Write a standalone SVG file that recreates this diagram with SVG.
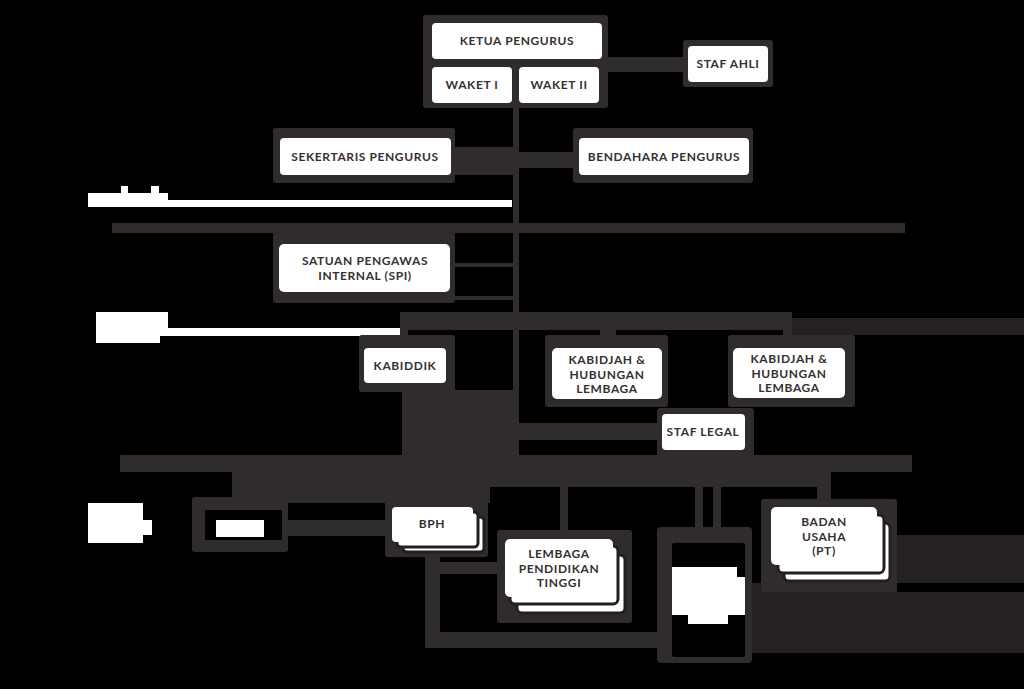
<svg xmlns="http://www.w3.org/2000/svg" width="1024" height="689" viewBox="0 0 1024 689">
  <style>
    .bg { fill: #000; }
    .g { fill: #302c2d; }
    .d { fill: #252122; }
    .w { fill: #ffffff; }
    .k { fill: #000; }
    .box { fill: #ffffff; }
    .layer { fill: #ffffff; stroke: #231f20; stroke-width: 3; }
    .t { font-family: Lato, "Open Sans", "Liberation Sans", sans-serif; font-weight: 700; font-size: 12px; letter-spacing: 0.6px; fill: #353132; text-anchor: middle; }
  </style>
  <rect class="bg" x="0" y="0" width="1024" height="689"/>

  <!-- connectors: grey bands and bars -->
  <g id="connectors">
    <!-- central spine -->
    <rect class="g" x="513" y="105" width="6" height="352"/>
    <!-- to STAF AHLI -->
    <rect class="g" x="605" y="57" width="80" height="15"/>
    <!-- to Sekertaris / Bendahara -->
    <rect class="g" x="453" y="147" width="60" height="28"/>
    <rect class="g" x="519" y="152" width="56" height="16"/>
    <!-- long grey rule -->
    <rect class="g" x="112" y="223" width="793" height="10"/>
    <!-- SPI ties -->
    <rect class="g" x="453" y="263" width="60" height="4"/>
    <rect class="g" x="453" y="296" width="60" height="4"/>
    <!-- Kabid bar -->
    <rect class="g" x="400" y="312" width="392" height="18"/>
    <rect class="d" x="792" y="318" width="232" height="17"/>
    <rect class="g" x="400" y="328" width="8" height="8"/>
    <rect class="g" x="600" y="328" width="16" height="8"/>
    <rect class="g" x="783" y="328" width="9" height="8"/>
    <!-- block below Kabiddik -->
    <rect class="g" x="402" y="390" width="112" height="67"/>
    <!-- to STAF LEGAL -->
    <rect class="g" x="519" y="423" width="140" height="17"/>
    <!-- main lower bar -->
    <rect class="g" x="120" y="455" width="792" height="17"/>
    <rect class="g" x="232" y="470" width="585" height="17"/>
    <rect class="g" x="232" y="485" width="258" height="18"/>
    <!-- stems -->
    <rect class="g" x="817" y="470" width="14" height="32"/>
    <rect class="g" x="560" y="485" width="8" height="47"/>
    <rect class="g" x="695" y="485" width="8" height="44"/>
    <rect class="g" x="713" y="485" width="8" height="44"/>
    <!-- small frame to BPH -->
    <rect class="g" x="286" y="520" width="104" height="16"/>
    <!-- BPH down and across -->
    <rect class="g" x="425" y="554" width="15" height="94"/>
    <rect class="g" x="438" y="562" width="64" height="12"/>
    <rect class="g" x="425" y="632" width="236" height="16"/>
    <!-- right-hand grey areas -->
    <rect class="d" x="897" y="535" width="127" height="48"/>
    <rect class="d" x="752" y="583" width="145" height="70"/>
    <rect class="d" x="897" y="592" width="127" height="61"/>
  </g>

  <!-- white rules with marks -->
  <g id="rules">
    <rect class="w" x="88" y="200" width="424" height="7"/>
    <rect class="w" x="88" y="193" width="80" height="14"/>
    <rect class="w" x="121" y="186" width="7" height="8"/>
    <rect class="w" x="151" y="186" width="8" height="8"/>
    <rect class="w" x="160" y="328" width="240" height="8"/>
    <rect class="w" x="96" y="312" width="72" height="24"/>
    <rect class="w" x="96" y="335" width="64" height="8"/>
  </g>

  <g id="ketua-waket">
    <rect class="g" x="423" y="15" width="185" height="93" rx="3"/>
    <rect class="box" x="432" y="23" width="170" height="36" rx="4"/>
    <text class="t" x="517" y="45">KETUA PENGURUS</text>
    <rect class="box" x="432" y="67" width="80" height="36" rx="4"/>
    <text class="t" x="472" y="89">WAKET I</text>
    <rect class="box" x="519" y="67" width="80" height="36" rx="4"/>
    <text class="t" x="559" y="89">WAKET II</text>
  </g>

  <g id="staf-ahli">
    <rect class="g" x="683" y="40" width="90" height="47" rx="3"/>
    <rect class="box" x="688" y="46" width="80" height="36" rx="4"/>
    <text class="t" x="728" y="68">STAF AHLI</text>
  </g>

  <g id="sekertaris">
    <rect class="g" x="273" y="128" width="182" height="55" rx="3"/>
    <rect class="box" x="280" y="138" width="171" height="37" rx="4"/>
    <text class="t" x="365" y="161">SEKERTARIS PENGURUS</text>
  </g>

  <g id="bendahara">
    <rect class="g" x="573" y="128" width="180" height="55" rx="3"/>
    <rect class="box" x="579" y="138" width="170" height="37" rx="4"/>
    <text class="t" x="664" y="161">BENDAHARA PENGURUS</text>
  </g>

  <g id="spi">
    <rect class="g" x="273" y="232" width="182" height="71" rx="3"/>
    <rect class="box" x="279" y="244" width="171" height="48" rx="5"/>
    <text class="t" x="365" y="265">SATUAN PENGAWAS<tspan x="365" dy="14.5">INTERNAL (SPI)</tspan></text>
  </g>

  <g id="kabiddik">
    <rect class="g" x="359" y="335" width="96" height="57" rx="3"/>
    <rect class="box" x="364" y="348" width="82" height="35" rx="4"/>
    <text class="t" x="405" y="370">KABIDDIK</text>
  </g>

  <g id="kabidjah-1">
    <rect class="g" x="545" y="335" width="123" height="72" rx="3"/>
    <rect class="box" x="552" y="348" width="110" height="51" rx="5"/>
    <text class="t" x="607" y="364">KABIDJAH &amp;<tspan x="607" dy="14.5">HUBUNGAN</tspan><tspan x="607" dy="14.5">LEMBAGA</tspan></text>
  </g>

  <g id="kabidjah-2">
    <rect class="g" x="728" y="335" width="127" height="72" rx="3"/>
    <rect class="box" x="733" y="348" width="112" height="50" rx="5"/>
    <text class="t" x="789" y="363">KABIDJAH &amp;<tspan x="789" dy="14.5">HUBUNGAN</tspan><tspan x="789" dy="14.5">LEMBAGA</tspan></text>
  </g>

  <g id="staf-legal">
    <rect class="g" x="657" y="408" width="97" height="49" rx="3"/>
    <rect class="box" x="662" y="414" width="83" height="36" rx="4"/>
    <text class="t" x="703" y="436">STAF LEGAL</text>
  </g>

  <g id="small-frame">
    <rect class="g" x="192" y="497" width="96" height="55" rx="3"/>
    <rect class="k" x="205" y="510" width="77" height="30"/>
    <rect class="w" x="216" y="520" width="48" height="17"/>
  </g>

  <g id="side-mark">
    <rect class="w" x="88" y="503" width="55" height="40"/>
    <rect class="w" x="88" y="520" width="64" height="15"/>
  </g>

  <g id="bph">
    <rect class="g" x="385" y="500" width="103" height="57" rx="3"/>
    <rect class="layer" x="403" y="517" width="81" height="35" rx="4"/>
    <rect class="layer" x="397" y="512" width="81" height="35" rx="4"/>
    <rect class="box" x="392" y="507" width="81" height="35" rx="4"/>
    <text class="t" x="432" y="528">BPH</text>
  </g>

  <g id="lembaga-pt">
    <rect class="g" x="497" y="530" width="135" height="93" rx="3"/>
    <rect class="layer" x="517" y="555" width="108" height="58" rx="5"/>
    <rect class="layer" x="510" y="546" width="108" height="58" rx="5"/>
    <rect class="box" x="505" y="539" width="108" height="58" rx="5"/>
    <text class="t" x="559" y="558">LEMBAGA<tspan x="559" dy="14.5">PENDIDIKAN</tspan><tspan x="559" dy="14.5">TINGGI</tspan></text>
  </g>

  <g id="tall-frame">
    <rect class="g" x="657" y="527" width="95" height="136" rx="4"/>
    <rect class="k" x="672" y="543" width="73" height="114" rx="2"/>
    <rect class="w" x="672" y="567" width="65" height="48"/>
    <rect class="w" x="672" y="577" width="73" height="38"/>
    <rect class="w" x="688" y="612" width="40" height="12"/>
    <rect class="g" x="667" y="584" width="5" height="14"/>
  </g>

  <g id="badan-usaha">
    <rect class="g" x="761" y="499" width="136" height="93" rx="3"/>
    <rect class="layer" x="784" y="523" width="106" height="58" rx="5"/>
    <rect class="layer" x="778" y="515" width="106" height="58" rx="5"/>
    <rect class="box" x="771" y="507" width="106" height="58" rx="5"/>
    <text class="t" x="824" y="526">BADAN<tspan x="824" dy="14.5">USAHA</tspan><tspan x="824" dy="14.5">(PT)</tspan></text>
  </g>
</svg>
